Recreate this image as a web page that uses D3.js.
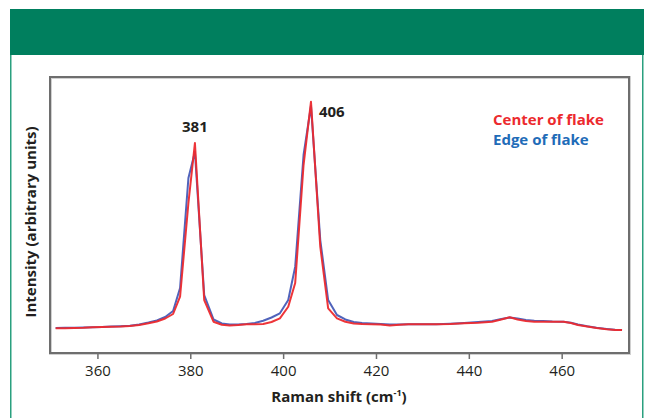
<!DOCTYPE html>
<html>
<head>
<meta charset="utf-8">
<script src="https://cdn.jsdelivr.net/npm/d3@7/dist/d3.min.js"></script>
<style>
  html, body { margin: 0; padding: 0; background: #ffffff; }
  svg { display: block; }
  text { font-family: "Open Sans", "Liberation Sans", sans-serif; }
</style>
</head>
<body>
<svg id="chart" width="648" height="418"></svg>
<script>
// Raman shift (cm^-1) of each sample point
const shift = [351.0, 353.0, 355.0, 357.0, 359.0, 361.0, 363.0, 365.0, 367.0, 369.0,
  371.0, 372.8, 374.6, 376.3, 377.8, 379.6, 381.0, 383.0, 385.0, 386.8,
  388.5, 390.3, 392.1, 393.9, 395.7, 397.5, 399.3, 401.1, 402.6, 404.4,
  406.0, 408.0, 409.7, 411.6, 413.4, 415.2, 417.0, 419.0, 421.0, 423.0,
  425.0, 427.0, 430.0, 433.0, 436.0, 439.0, 442.0, 445.0, 447.0, 448.8,
  450.5, 452.3, 454.1, 456.0, 458.0, 460.4, 462.0, 463.5, 465.5, 467.5,
  469.7, 471.5, 473.0];

// Intensity, centre of the flake (arbitrary units)
const centerOfFlake = [89.5, 89.9, 90.6, 91.3, 93.1, 94.2, 95.3, 96.0, 97.8, 101.4,
  107.6, 114.1, 125.0, 141.3, 204.0, 543.5, 760.9, 192.0, 113.4, 102.2,
  99.6, 101.4, 104.0, 104.0, 105.1, 112.3, 125.7, 167.7, 253.6, 681.1,
  910.5, 385.1, 161.9, 125.7, 113.4, 106.9, 105.1, 104.0, 102.9, 99.6,
  102.2, 104.0, 104.0, 104.0, 105.1, 107.6, 109.4, 113.0, 121.4, 129.3,
  121.4, 115.9, 113.4, 113.4, 113.4, 113.4, 108.7, 101.4, 96.0, 90.6,
  85.9, 83.3, 83.3];

// Intensity, edge of the flake (arbitrary units)
const edgeOfFlake = [90.6, 91.3, 91.3, 92.4, 93.5, 94.2, 96.0, 97.1, 98.5, 103.3,
  110.5, 117.7, 130.4, 152.2, 235.5, 634.0, 728.2, 210.1, 122.1, 106.9,
  103.3, 103.3, 105.1, 108.7, 117.0, 128.6, 143.8, 192.0, 312.7, 717.4,
  894.9, 409.4, 192.0, 137.7, 121.4, 112.3, 108.7, 106.9, 105.1, 102.9,
  103.3, 104.0, 104.0, 104.0, 105.8, 108.7, 112.3, 115.9, 123.2, 128.6,
  125.0, 119.6, 116.7, 115.9, 114.1, 113.4, 109.4, 103.3, 96.7, 91.3,
  87.0, 84.1, 83.3];

const xTicks = [360, 380, 400, 420, 440, 460];
const peakLabels = [{ shift: 381, text: "381" }, { shift: 406, text: "406" }];
const seriesNames = ["Center of flake", "Edge of flake"];

const RED = "#ec2a2e";
const BLUE = "#3d52b4";
const BLUE_TEXT = "#1f6cb8";

const svg = d3.select("#chart");

// page furniture: green banner and framed panel
svg.append("rect").attr("x", 10).attr("y", 9).attr("width", 634).attr("height", 46)
  .attr("fill", "#007f5e");
svg.append("path")
  .attr("d", "M10.75,55 V418 M642.75,55 V418")
  .attr("stroke", "#2aa07f").attr("stroke-width", 1.5).attr("fill", "none");

const box = { left: 50, top: 77, right: 629, bottom: 353 };

const x = d3.scaleLinear().domain([350, 474.5]).range([51, 629]);
const y = d3.scaleLinear().domain([0, 1000]).range([box.bottom, box.top]);

// plot frame with a faint shadow
svg.append("rect")
  .attr("x", box.left + 0.5).attr("y", box.top + 0.5)
  .attr("width", box.right - box.left).attr("height", box.bottom - box.top)
  .attr("fill", "none").attr("stroke", "#d0d0d0").attr("stroke-width", 3);
svg.append("rect")
  .attr("x", box.left).attr("y", box.top)
  .attr("width", box.right - box.left).attr("height", box.bottom - box.top)
  .attr("fill", "none").attr("stroke", "#6e6e6e").attr("stroke-width", 2);

// x axis
const xAxis = svg.append("g")
  .attr("transform", `translate(0,${box.bottom + 1})`)
  .call(d3.axisBottom(x).tickValues(xTicks).tickSize(5).tickPadding(6).tickFormat(d3.format("d")));
xAxis.select(".domain").remove();
xAxis.selectAll(".tick line").attr("stroke", "#6e6e6e").attr("stroke-width", 1.5);
xAxis.selectAll(".tick text")
  .attr("fill", "#231f20").attr("font-size", 15)
  .style("font-family", "'Open Sans', sans-serif");

// axis titles
const xTitle = svg.append("text")
  .attr("x", 339).attr("y", 401.5)
  .attr("text-anchor", "middle").attr("font-size", 15).attr("font-weight", "bold")
  .attr("fill", "#231f20");
xTitle.append("tspan").text("Raman shift (cm");
xTitle.append("tspan").text("-1").attr("font-size", 9).attr("dy", -6);
xTitle.append("tspan").text(")").attr("dy", 6);

svg.append("text")
  .attr("transform", "translate(35.5,222) rotate(-90)")
  .attr("text-anchor", "middle").attr("font-size", 15).attr("font-weight", "bold")
  .attr("fill", "#231f20")
  .text("Intensity (arbitrary units)");

// spectra
const line = (values) => d3.line()
  .x((d, i) => x(shift[i]))
  .y(d => y(d))(values);

svg.append("path").attr("d", line(edgeOfFlake))
  .attr("fill", "none").attr("stroke", BLUE).attr("stroke-width", 2)
  .attr("stroke-linejoin", "round").attr("opacity", 0.9);
svg.append("path").attr("d", line(centerOfFlake))
  .attr("fill", "none").attr("stroke", RED).attr("stroke-width", 2)
  .attr("stroke-linejoin", "round").attr("opacity", 0.95);

// peak annotations
const peakMax = (s) => {
  const i = shift.indexOf(s);
  return Math.max(centerOfFlake[i], edgeOfFlake[i]);
};
svg.append("text")
  .attr("x", x(peakLabels[0].shift)).attr("y", y(peakMax(peakLabels[0].shift)) - 11)
  .attr("text-anchor", "middle").attr("font-size", 15).attr("font-weight", "bold")
  .attr("fill", "#231f20").text(peakLabels[0].text);
svg.append("text")
  .attr("x", x(peakLabels[1].shift) + 8).attr("y", y(peakMax(peakLabels[1].shift)) + 15)
  .attr("text-anchor", "start").attr("font-size", 15).attr("font-weight", "bold")
  .attr("fill", "#231f20").text(peakLabels[1].text);

// legend
svg.append("text").attr("x", 493).attr("y", 124.5)
  .attr("font-size", 15).attr("font-weight", "bold").attr("fill", RED)
  .text(seriesNames[0]);
svg.append("text").attr("x", 493).attr("y", 144.5)
  .attr("font-size", 15).attr("font-weight", "bold").attr("fill", BLUE_TEXT)
  .text(seriesNames[1]);
</script>
</body>
</html>
